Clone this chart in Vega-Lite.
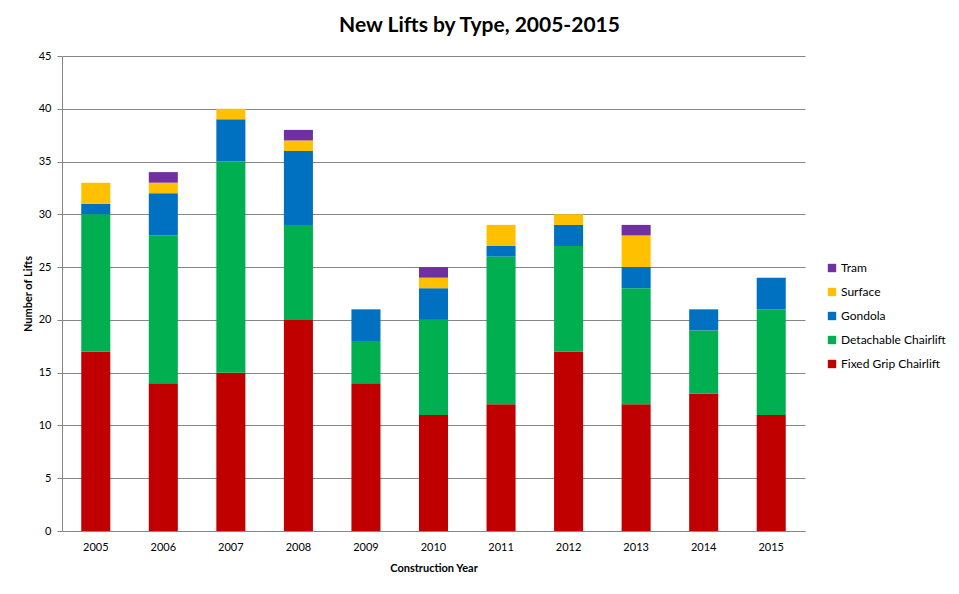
{
  "$schema": "https://vega.github.io/schema/vega-lite/v6.json",
  "width": 743,
  "height": 475,
  "autosize": {"type": "none"},
  "padding": {"left": 62, "top": 56, "right": 154, "bottom": 63},
  "background": "white",
  "title": {"text": "New Lifts by Type, 2005-2015", "font": "Lato", "fontSize": 21, "fontWeight": "bold", "color": "#000000", "offset": 14, "dx": 46},
  "config": {
    "font": "Lato",
    "view": {"stroke": null}
  },
  "data": {"values": [
    {"year": "2005", "type": "Fixed Grip Chairlift", "s": 1, "n": 17},
    {"year": "2005", "type": "Detachable Chairlift", "s": 2, "n": 13},
    {"year": "2005", "type": "Gondola", "s": 3, "n": 1},
    {"year": "2005", "type": "Surface", "s": 4, "n": 2},
    {"year": "2005", "type": "Tram", "s": 5, "n": 0},
    {"year": "2006", "type": "Fixed Grip Chairlift", "s": 1, "n": 14},
    {"year": "2006", "type": "Detachable Chairlift", "s": 2, "n": 14},
    {"year": "2006", "type": "Gondola", "s": 3, "n": 4},
    {"year": "2006", "type": "Surface", "s": 4, "n": 1},
    {"year": "2006", "type": "Tram", "s": 5, "n": 1},
    {"year": "2007", "type": "Fixed Grip Chairlift", "s": 1, "n": 15},
    {"year": "2007", "type": "Detachable Chairlift", "s": 2, "n": 20},
    {"year": "2007", "type": "Gondola", "s": 3, "n": 4},
    {"year": "2007", "type": "Surface", "s": 4, "n": 1},
    {"year": "2007", "type": "Tram", "s": 5, "n": 0},
    {"year": "2008", "type": "Fixed Grip Chairlift", "s": 1, "n": 20},
    {"year": "2008", "type": "Detachable Chairlift", "s": 2, "n": 9},
    {"year": "2008", "type": "Gondola", "s": 3, "n": 7},
    {"year": "2008", "type": "Surface", "s": 4, "n": 1},
    {"year": "2008", "type": "Tram", "s": 5, "n": 1},
    {"year": "2009", "type": "Fixed Grip Chairlift", "s": 1, "n": 14},
    {"year": "2009", "type": "Detachable Chairlift", "s": 2, "n": 4},
    {"year": "2009", "type": "Gondola", "s": 3, "n": 3},
    {"year": "2009", "type": "Surface", "s": 4, "n": 0},
    {"year": "2009", "type": "Tram", "s": 5, "n": 0},
    {"year": "2010", "type": "Fixed Grip Chairlift", "s": 1, "n": 11},
    {"year": "2010", "type": "Detachable Chairlift", "s": 2, "n": 9},
    {"year": "2010", "type": "Gondola", "s": 3, "n": 3},
    {"year": "2010", "type": "Surface", "s": 4, "n": 1},
    {"year": "2010", "type": "Tram", "s": 5, "n": 1},
    {"year": "2011", "type": "Fixed Grip Chairlift", "s": 1, "n": 12},
    {"year": "2011", "type": "Detachable Chairlift", "s": 2, "n": 14},
    {"year": "2011", "type": "Gondola", "s": 3, "n": 1},
    {"year": "2011", "type": "Surface", "s": 4, "n": 2},
    {"year": "2011", "type": "Tram", "s": 5, "n": 0},
    {"year": "2012", "type": "Fixed Grip Chairlift", "s": 1, "n": 17},
    {"year": "2012", "type": "Detachable Chairlift", "s": 2, "n": 10},
    {"year": "2012", "type": "Gondola", "s": 3, "n": 2},
    {"year": "2012", "type": "Surface", "s": 4, "n": 1},
    {"year": "2012", "type": "Tram", "s": 5, "n": 0},
    {"year": "2013", "type": "Fixed Grip Chairlift", "s": 1, "n": 12},
    {"year": "2013", "type": "Detachable Chairlift", "s": 2, "n": 11},
    {"year": "2013", "type": "Gondola", "s": 3, "n": 2},
    {"year": "2013", "type": "Surface", "s": 4, "n": 3},
    {"year": "2013", "type": "Tram", "s": 5, "n": 1},
    {"year": "2014", "type": "Fixed Grip Chairlift", "s": 1, "n": 13},
    {"year": "2014", "type": "Detachable Chairlift", "s": 2, "n": 6},
    {"year": "2014", "type": "Gondola", "s": 3, "n": 2},
    {"year": "2014", "type": "Surface", "s": 4, "n": 0},
    {"year": "2014", "type": "Tram", "s": 5, "n": 0},
    {"year": "2015", "type": "Fixed Grip Chairlift", "s": 1, "n": 11},
    {"year": "2015", "type": "Detachable Chairlift", "s": 2, "n": 10},
    {"year": "2015", "type": "Gondola", "s": 3, "n": 3},
    {"year": "2015", "type": "Surface", "s": 4, "n": 0},
    {"year": "2015", "type": "Tram", "s": 5, "n": 0}
  ]},
  "mark": {"type": "bar"},
  "encoding": {
    "x": {
      "field": "year", "type": "nominal",
      "scale": {"paddingInner": 0.57, "paddingOuter": 0.285},
      "axis": {"title": "Construction Year", "titleFont": "Lato", "titleFontSize": 11, "titleFontWeight": "bold", "titleColor": "#000", "titlePadding": 10,
               "labelAngle": 0, "labelFontSize": 11, "labelColor": "#000", "labelPadding": 10, "ticks": false, "domainColor": "#868686", "grid": false}
    },
    "y": {
      "aggregate": "sum", "field": "n", "type": "quantitative",
      "scale": {"domain": [0, 45], "nice": false},
      "axis": {"title": "Number of Lifts", "titleFontSize": 11, "titleFontWeight": "bold", "titleColor": "#000", "titlePadding": 5,
               "values": [0, 5, 10, 15, 20, 25, 30, 35, 40, 45], "labelFontSize": 11, "labelColor": "#000", "labelPadding": 6,
               "tickColor": "#868686", "tickSize": 5, "domainColor": "#868686", "gridColor": "#868686", "gridOpacity": 1}
    },
    "color": {
      "field": "type", "type": "nominal",
      "scale": {
        "domain": ["Tram", "Surface", "Gondola", "Detachable Chairlift", "Fixed Grip Chairlift"],
        "range": ["#7030A0", "#FFC000", "#0070C0", "#00B050", "#C00000"]
      },
      "legend": {"title": null, "orient": "none", "legendX": 764, "legendY": 206, "symbolType": "square", "symbolSize": 70,
                 "symbolStrokeWidth": 0, "labelFontSize": 12, "labelColor": "#000", "rowPadding": 12, "labelOffset": 3}
    },
    "order": {"field": "s", "type": "quantitative"}
  }
}
